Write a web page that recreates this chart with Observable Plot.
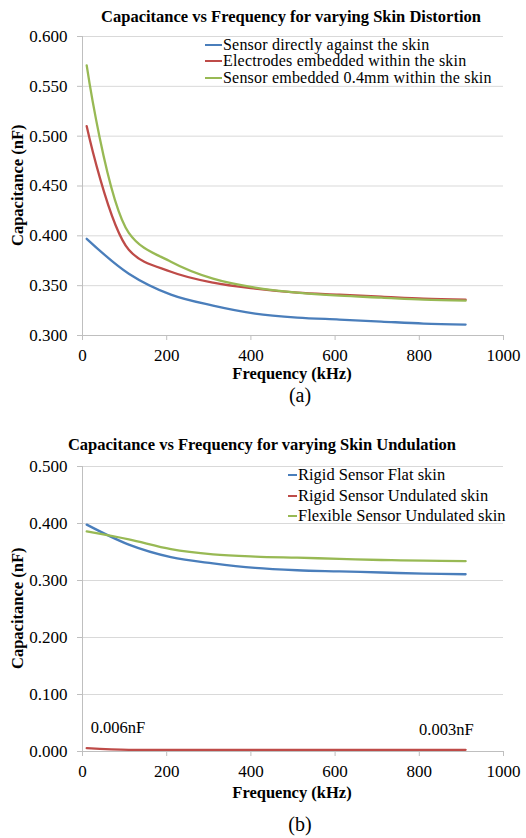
<!DOCTYPE html>
<html>
<head>
<meta charset="utf-8">
<script src="https://cdn.jsdelivr.net/npm/d3@7"></script>
<script src="https://cdn.jsdelivr.net/npm/@observablehq/plot@0.6"></script>
<style>
  html, body { margin: 0; padding: 0; background: #fff; }
  #root { position: relative; width: 526px; height: 838px; font-family: "Liberation Serif", "Times New Roman", serif; color: #000; }
  .abs { position: absolute; white-space: nowrap; line-height: 1; }
  .title { font-weight: bold; font-size: 16.5px; text-align: center; }
  .axt { font-weight: bold; font-size: 16.5px; text-align: center; }
  .leg { font-size: 16px; letter-spacing: 0.2px; }
  .sw { position: absolute; height: 2px; }
  .cap { font-size: 20px; text-align: center; }
</style>
</head>
<body>
<div id="root"></div>
<script>
// ---------- data ----------
const freqs = [10, 110, 210, 310, 410, 510, 610, 710, 810, 910];

// Chart (a): Capacitance vs Frequency for varying Skin Distortion
const seriesNamesA = ["Sensor directly against the skin", "Electrodes embedded within the skin", "Sensor embedded 0.4mm within the skin"];
const aSensorAgainst      = [0.397, 0.362, 0.341, 0.330, 0.322, 0.318, 0.316, 0.314, 0.312, 0.311];
const aElectrodesEmbedded = [0.510, 0.386, 0.364, 0.353, 0.347, 0.343, 0.341, 0.339, 0.337, 0.336];
const aSensorEmbedded     = [0.571, 0.403, 0.374, 0.357, 0.348, 0.343, 0.340, 0.338, 0.336, 0.335];
const yTicksA = [0.300, 0.350, 0.400, 0.450, 0.500, 0.550, 0.600];

// Chart (b): Capacitance vs Frequency for varying Skin Undulation
const seriesNamesB = ["Rigid Sensor Flat skin", "Rigid Sensor Undulated skin", "Flexible Sensor Undulated skin"];
const bRigidFlat         = [0.398, 0.363, 0.341, 0.330, 0.322, 0.318, 0.316, 0.314, 0.312, 0.311];
const bRigidUndulated    = [0.006, 0.003, 0.003, 0.003, 0.003, 0.003, 0.003, 0.003, 0.003, 0.003];
const bFlexibleUndulated = [0.386, 0.372, 0.355, 0.346, 0.342, 0.340, 0.338, 0.336, 0.335, 0.334];
const yTicksB = [0.000, 0.100, 0.200, 0.300, 0.400, 0.500];
const annotationLabelsB = ["0.006nF", "0.003nF"];

const xTicks = [0, 200, 400, 600, 800, 1000];
const seriesColors = ["#4a7ebb", "#be4b48", "#98b954"];

// ---------- helpers ----------
const root = document.getElementById("root");
function addDiv(cls, text, css) {
  const d = document.createElement("div");
  d.className = cls;
  d.textContent = text;
  Object.assign(d.style, css);
  root.appendChild(d);
  return d;
}
function toRows(names, arrays) {
  const rows = [];
  names.forEach((s, i) => arrays[i].forEach((v, j) => rows.push({s, f: freqs[j], v})));
  return rows;
}

function chart({names, arrays, yTicks, top, height, marginTop, extra = []}) {
  const rows = toRows(names, arrays);
  const svg = Plot.plot({
    width: 526,
    height,
    marginLeft: 82,
    marginRight: 23,
    marginTop,
    marginBottom: 30,
    x: {domain: [0, 1000]},
    y: {domain: [yTicks[0], yTicks[yTicks.length - 1]]},
    color: {domain: names, range: seriesColors},
    style: {fontFamily: "'Liberation Serif', 'Times New Roman', serif", fontSize: "17px", color: "black", background: "transparent", overflow: "visible"},
    marks: [
      Plot.gridY(yTicks, {stroke: "#d9d9d9", strokeOpacity: 1}),
      Plot.ruleX([0], {stroke: "#bfbfbf"}),
      Plot.ruleY([yTicks[0]], {stroke: "#bfbfbf"}),
      Plot.axisY(yTicks, {tickFormat: d3.format(".3f"), tickSize: 5, tickPadding: 10, stroke: "#bfbfbf", fill: "black", label: null}),
      Plot.axisX(xTicks, {tickFormat: d3.format("d"), tickSize: 5, tickPadding: 8, stroke: "#bfbfbf", fill: "black", label: null}),
      Plot.line(rows, {x: "f", y: "v", z: "s", stroke: "s", curve: "catmull-rom", strokeWidth: 2.3}),
      ...extra
    ]
  });
  const wrap = document.createElement("div");
  Object.assign(wrap.style, {position: "absolute", left: "0px", top: top + "px"});
  wrap.appendChild(svg);
  root.appendChild(wrap);
}

// ---------- chart (a) ----------
addDiv("abs title", "Capacitance vs Frequency for varying Skin Distortion", {left: "0px", width: "582px", top: "9px"});
chart({names: seriesNamesA, arrays: [aSensorAgainst, aElectrodesEmbedded, aSensorEmbedded], yTicks: yTicksA, top: 20, height: 345, marginTop: 16});
seriesNamesA.forEach((n, i) => {
  const cy = 44.5 + i * 16.5;
  const sw = document.createElement("div");
  sw.className = "sw";
  Object.assign(sw.style, {left: "205px", width: "17px", top: (cy - 1) + "px", background: seriesColors[i]});
  root.appendChild(sw);
  addDiv("abs leg", n, {left: "223px", top: (cy - 8) + "px"});
});
addDiv("abs axt", "Frequency (kHz)", {left: "192px", width: "200px", top: "366px"});
addDiv("abs axt", "Capacitance (nF)", {left: "-82px", width: "200px", top: (185.5 - 8.25) + "px", transform: "rotate(-90deg)"});
addDiv("abs cap", "(a)", {left: "250px", width: "100px", top: "385px"});

// ---------- chart (b) ----------
addDiv("abs title", "Capacitance vs Frequency for varying Skin Undulation", {left: "0px", width: "524px", top: "436.5px"});
const annData = [
  {label: annotationLabelsB[0], f: freqs[0], v: bRigidUndulated[0]},
  {label: annotationLabelsB[1], f: freqs[freqs.length - 1], v: bRigidUndulated[bRigidUndulated.length - 1]}
];
chart({
  names: seriesNamesB, arrays: [bRigidFlat, bRigidUndulated, bFlexibleUndulated], yTicks: yTicksB, top: 455, height: 326, marginTop: 11,
  extra: [
    Plot.text([annData[0]], {x: "f", y: "v", text: "label", textAnchor: "start", dx: 4, dy: -20, fontSize: 16.5, fill: "black"}),
    Plot.text([annData[1]], {x: "f", y: "v", text: "label", textAnchor: "end", dx: 8, dy: -20, fontSize: 16.5, fill: "black"})
  ]
});
seriesNamesB.forEach((n, i) => {
  const cy = 475 + i * 20.5;
  const sw = document.createElement("div");
  sw.className = "sw";
  Object.assign(sw.style, {left: "288px", width: "9px", top: (cy - 1) + "px", background: seriesColors[i]});
  root.appendChild(sw);
  addDiv("abs leg", n, {left: "298px", top: (cy - 8) + "px", fontSize: "16.5px", letterSpacing: "0px"});
});
addDiv("abs axt", "Frequency (kHz)", {left: "192px", width: "200px", top: "784.5px"});
addDiv("abs axt", "Capacitance (nF)", {left: "-82px", width: "200px", top: (608.5 - 8.25) + "px", transform: "rotate(-90deg)"});
addDiv("abs cap", "(b)", {left: "250px", width: "100px", top: "814px"});
</script>
</body>
</html>
